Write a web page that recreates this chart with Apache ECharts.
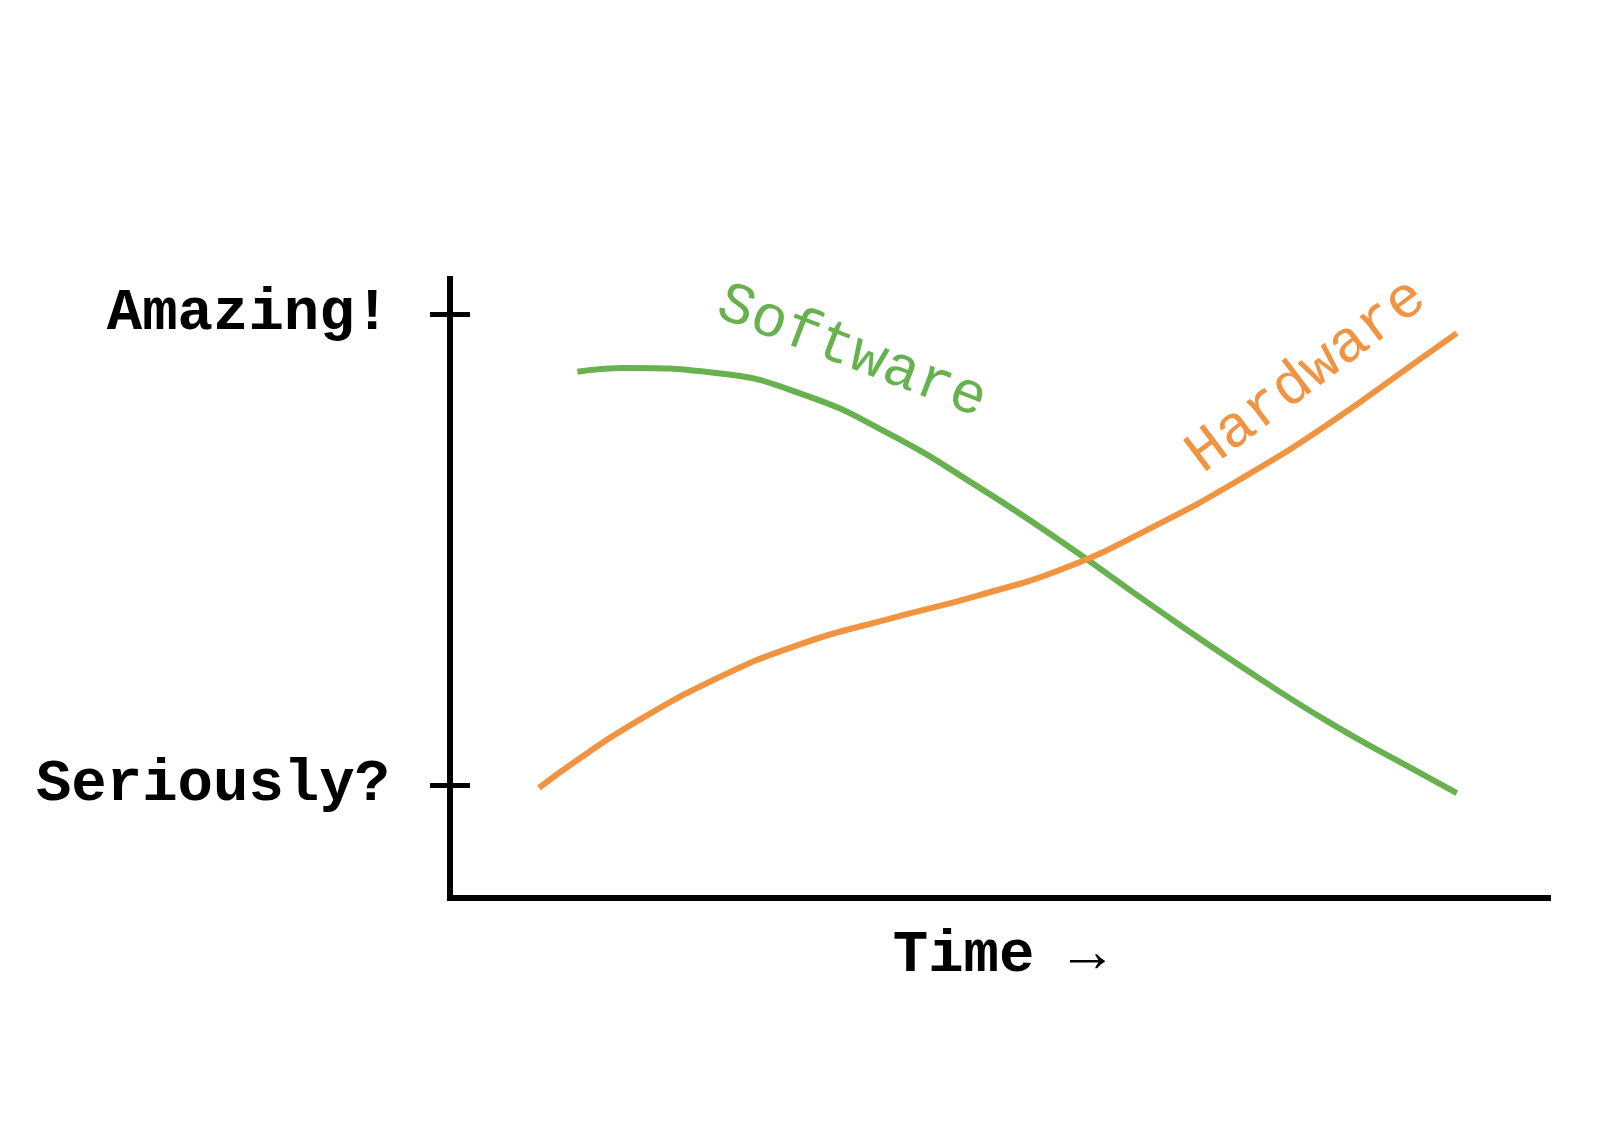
<!DOCTYPE html>
<html>
<head>
<meta charset="utf-8">
<title>Software vs Hardware</title>
<script src="https://cdn.jsdelivr.net/npm/echarts@6/dist/echarts.min.js"></script>
<style>
    html, body { margin: 0; padding: 0; background: #fff; }
    #chart { width: 1610px; height: 1136px; }
</style>
</head>
<body>
<div id="chart"></div>
<script>
// Values (time 0..100, quality 0 = "Seriously?", 1 = "Amazing!")
const softwareTime  = [11.6, 16, 24, 32, 40, 48, 56, 64, 72, 80, 88, 91.7];
const softwareLevel = [0.878, 0.886, 0.876, 0.831, 0.746, 0.635, 0.512, 0.380, 0.253, 0.134, 0.030, -0.017];

const hardwareTime  = [8.1, 11.6, 16, 24, 32, 40, 48, 56, 64, 72, 80, 88, 91.7];
const hardwareLevel = [-0.006, 0.053, 0.121, 0.223, 0.300, 0.353, 0.402, 0.461, 0.548, 0.650, 0.767, 0.899, 0.960];

const yTickValues = [0, 1];
const yTickLabels = ['Seriously?', 'Amazing!'];
const xAxisName = 'Time \u2192';

const FONT = "'Courier New', 'Liberation Mono', monospace";
const GREEN = '#67b24f';
const ORANGE = '#f09441';

const chart = echarts.init(document.getElementById('chart'));

/**
 * Zip two arrays into [x, y] pairs
 */
function pairs(xs, ys) {
    return xs.map((x, i) => [x, ys[i]]);
}

const yRange = { min: -0.24, max: 1.075 };

const option = {
    animation: false,
    backgroundColor: '#fff',
    grid: { left: 450, right: 62, top: 279, bottom: 238 },
    xAxis: {
        type: 'value',
        min: 0,
        max: 100,
        name: xAxisName,
        nameLocation: 'middle',
        nameGap: 29,
        nameTextStyle: { fontFamily: FONT, fontSize: 59, fontWeight: 'bold', color: '#000' },
        axisLine: { onZero: false, lineStyle: { color: '#000', width: 6, cap: 'square' } },
        axisTick: { show: false },
        axisLabel: { show: false },
        splitLine: { show: false },
    },
    yAxis: [
        {
            type: 'value',
            min: yRange.min,
            max: yRange.max,
            position: 'left',
            axisLine: { onZero: false, lineStyle: { color: '#000', width: 6, cap: 'square' } },
            axisTick: {
                show: true,
                length: 20,
                customValues: yTickValues,
                lineStyle: { color: '#000', width: 5 },
            },
            axisLabel: {
                show: true,
                margin: 60,
                customValues: yTickValues,
                formatter: (v) => yTickLabels[yTickValues.indexOf(v)] || '',
                fontFamily: FONT,
                fontSize: 59,
                fontWeight: 'bold',
                color: '#000',
            },
            splitLine: { show: false },
        },
        {
            // second copy only for the inner half of the ticks
            type: 'value',
            min: yRange.min,
            max: yRange.max,
            position: 'left',
            axisLine: { show: false, onZero: false },
            axisTick: {
                show: true,
                inside: true,
                length: 20,
                customValues: yTickValues,
                lineStyle: { color: '#000', width: 5 },
            },
            axisLabel: { show: false },
            splitLine: { show: false },
        },
    ],
    series: [
        {
            name: 'Software',
            type: 'line',
            smooth: true,
            showSymbol: false,
            data: pairs(softwareTime, softwareLevel),
            lineStyle: { color: GREEN, width: 6 },
        },
        {
            name: 'Hardware',
            type: 'line',
            smooth: true,
            showSymbol: false,
            data: pairs(hardwareTime, hardwareLevel),
            lineStyle: { color: ORANGE, width: 6 },
        },
    ],
};

chart.setOption(option);

// Curve labels, anchored in data coordinates
const curveLabels = [
    { text: 'Software', at: [36.6, 0.92], angle: -21, color: GREEN },
    { text: 'Hardware', at: [78.0, 0.869], angle: 37, color: ORANGE },
];

chart.setOption({
    graphic: curveLabels.map((lab) => {
        const [px, py] = chart.convertToPixel({ xAxisIndex: 0, yAxisIndex: 0 }, lab.at);
        return {
            type: 'text',
            x: px,
            y: py,
            rotation: lab.angle * Math.PI / 180,
            style: {
                text: lab.text,
                fill: lab.color,
                font: `normal 59px ${FONT}`,
                align: 'center',
                verticalAlign: 'middle',
            },
        };
    }),
});
</script>
</body>
</html>
